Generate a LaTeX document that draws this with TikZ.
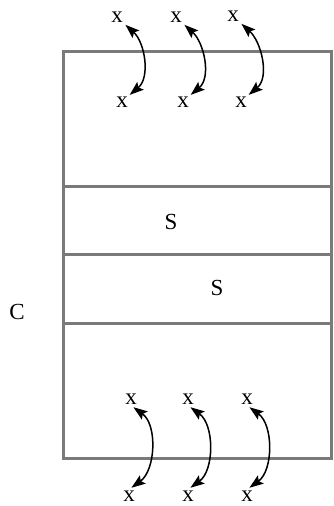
\documentclass[tikz,border=0pt]{standalone}
\usepackage{fontspec}
\setmainfont{Liberation Serif}
\usetikzlibrary{arrows.meta}
\definecolor{boxgray}{HTML}{7A7A7A}
\begin{document}
\begin{tikzpicture}[x=1pt,y=1pt,
  lbl/.style={font=\fontsize{23}{23}\selectfont, inner sep=1pt},
  frame/.style={draw=boxgray, line width=3pt},
  arr/.style={{Stealth[length=14pt,width=10pt,inset=2.5pt]}-{Stealth[length=14pt,width=10pt,inset=2.5pt]}, line width=1.5pt, black}]
\useasboundingbox (0,0) rectangle (333,506);
% frame and dividers
\draw[frame] (63,47) rectangle (331,454);
\draw[frame] (63,319) -- (331,319);
\draw[frame] (63,251) -- (331,251);
\draw[frame] (63,182) -- (331,182);
% labels
\node[lbl] (s1) at (171,284) {S};
\node[lbl] (s2) at (217,218) {S};
\node[lbl] (c) at (17,194) {C};
% top x's
\node[lbl] (t1) at (117,489) {x};
\node[lbl] (t2) at (176,489) {x};
\node[lbl] (t3) at (233,490) {x};
\node[lbl] (u1) at (122,404) {x};
\node[lbl] (u2) at (183,404) {x};
\node[lbl] (u3) at (241,404) {x};
% bottom x's
\node[lbl] (l1) at (131,107) {x};
\node[lbl] (l2) at (188,107) {x};
\node[lbl] (l3) at (247,107) {x};
\node[lbl] (m1) at (129,10) {x};
\node[lbl] (m2) at (188,10) {x};
\node[lbl] (m3) at (247,10) {x};
% top arrows
\draw[arr, shorten <=2pt, shorten >=1pt] (t1.south east) to[out=-42,in=40] (u1.north east);
\draw[arr, shorten <=2pt, shorten >=1pt] (t2.south east) to[out=-42,in=40] (u2.north east);
\draw[arr, shorten <=2pt, shorten >=1pt] (t3.south east) to[out=-42,in=40] (u3.north east);
% bottom arrows
\draw[arr, shorten <=3pt, shorten >=3pt] (l1.south) to[out=-36,in=36] (m1.north);
\draw[arr, shorten <=3pt, shorten >=3pt] (l2.south) to[out=-36,in=36] (m2.north);
\draw[arr, shorten <=3pt, shorten >=3pt] (l3.south) to[out=-36,in=36] (m3.north);
\end{tikzpicture}
\end{document}
